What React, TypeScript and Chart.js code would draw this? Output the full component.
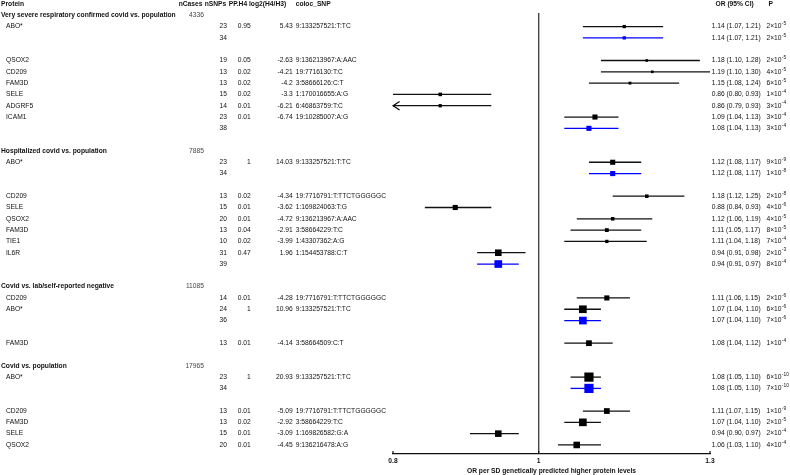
import { useEffect, useRef } from "react";
import { Chart, registerables } from "chart.js";

Chart.register(...registerables);

// ---------------- data ----------------
const columnHeaders = ["Protein", "nCases", "nSNPs", "PP.H4", "log2(H4/H3)", "coloc_SNP", "OR (95% CI)", "P"];

const sectionTitles = [
  "Very severe respiratory confirmed covid vs. population",
  "Hospitalized covid vs. population",
  "Covid vs. lab/self-reported negative",
  "Covid vs. population",
];
const sectionCases = [4336, 7885, 11085, 17965];

const rowSection = [0, 0, 0, 0, 0, 0, 0, 0, 0, 1, 1, 1, 1, 1, 1, 1, 1, 1, 2, 2, 2, 2, 3, 3, 3, 3, 3, 3];
const proteins = [
  "ABO*", "", "QSOX2", "CD209", "FAM3D", "SELE", "ADGRF5", "ICAM1", "",
  "ABO*", "", "CD209", "SELE", "QSOX2", "FAM3D", "TIE1", "IL6R", "",
  "CD209", "ABO*", "", "FAM3D",
  "ABO*", "", "CD209", "FAM3D", "SELE", "QSOX2",
];
const nSNPs = [23, 34, 19, 13, 13, 15, 14, 23, 38, 23, 34, 13, 15, 20, 13, 10, 31, 39, 14, 24, 36, 13, 23, 34, 13, 13, 15, 20];
const ppH4 = [0.95, null, 0.05, 0.02, 0.02, 0.02, 0.01, 0.01, null, 1, null, 0.02, 0.01, 0.01, 0.04, 0.02, 0.47, null, 0.01, 1, null, 0.01, 1, null, 0.01, 0.02, 0.01, 0.01];
const log2H4H3 = [5.43, null, -2.63, -4.21, -4.2, -3.3, -6.21, -6.74, null, 14.03, null, -4.34, -3.62, -4.72, -2.91, -3.99, 1.96, null, -4.28, 10.96, null, -4.14, 20.93, null, -5.09, -2.92, -3.09, -4.45];
const colocSNP = [
  "9:133257521:T:TC", "", "9:136213967:A:AAC", "19:7716130:T:C", "3:58666126:C:T", "1:170016655:A:G", "6:46863759:T:C", "19:10285007:A:G", "",
  "9:133257521:T:TC", "", "19:7716791:T:TTCTGGGGGC", "1:169824063:T:G", "9:136213967:A:AAC", "3:58664229:T:C", "1:43307362:A:G", "1:154453788:C:T", "",
  "19:7716791:T:TTCTGGGGGC", "9:133257521:T:TC", "", "3:58664509:C:T",
  "9:133257521:T:TC", "", "19:7716791:T:TTCTGGGGGC", "3:58664229:T:C", "1:169826582:G:A", "9:136216478:A:G",
];
const oddsRatio = [1.14, 1.14, 1.18, 1.19, 1.15, 0.86, 0.86, 1.09, 1.08, 1.12, 1.12, 1.18, 0.88, 1.12, 1.11, 1.11, 0.94, 0.94, 1.11, 1.07, 1.07, 1.08, 1.08, 1.08, 1.11, 1.07, 0.94, 1.06];
const ciLower = [1.07, 1.07, 1.10, 1.10, 1.08, 0.80, 0.79, 1.04, 1.04, 1.08, 1.08, 1.12, 0.84, 1.06, 1.05, 1.04, 0.91, 0.91, 1.06, 1.04, 1.04, 1.04, 1.05, 1.05, 1.07, 1.04, 0.90, 1.03];
const ciUpper = [1.21, 1.21, 1.28, 1.30, 1.24, 0.93, 0.93, 1.13, 1.13, 1.17, 1.17, 1.25, 0.93, 1.19, 1.17, 1.18, 0.98, 0.97, 1.15, 1.10, 1.10, 1.12, 1.10, 1.10, 1.15, 1.10, 0.97, 1.10];
const pMantissa = [2, 2, 2, 4, 6, 1, 3, 3, 3, 9, 1, 2, 4, 4, 8, 7, 2, 8, 2, 6, 7, 1, 6, 7, 1, 2, 2, 4];
const pExponent = [-5, -5, -5, -5, -5, -4, -4, -4, -4, -9, -8, -8, -6, -5, -5, -4, -3, -4, -6, -6, -6, -4, -10, -10, -9, -5, -4, -4];

const xTicks = [0.8, 1, 1.3];
const xTickLabels = ["0.8", "1", "1.3"];
const xTitle = "OR per SD genetically predicted higher protein levels";

// ---------------- layout (row positions) ----------------
const sectionRow: number[] = [];
const rowPos: number[] = [];
(() => {
  let r = 1;
  for (let s = 0; s < sectionTitles.length; s++) {
    sectionRow[s] = r++;
    const idx = rowSection.map((v, i) => (v === s ? i : -1)).filter((i) => i >= 0);
    let lastBlank = false;
    for (const i of idx) {
      rowPos[i] = r++;
      lastBlank = false;
      if (proteins[i] === "") {
        r++;
        lastBlank = true;
      }
    }
    if (!lastBlank) r++;
  }
})();

const BLACK = "#000000";
const BLUE = "#0000ff";
const FS = 6.7;
const FONT_FAMILY = '"Liberation Sans", Arial, Helvetica, sans-serif';

const isMulti = (i: number) => proteins[i] === "";
const boxSide = (i: number) => Math.max(2.6, 0.46 / (ciUpper[i] - ciLower[i]));

const textPlugin = {
  id: "forestText",
  afterDraw(chart: any) {
    const ctx: CanvasRenderingContext2D = chart.ctx;
    const ys = chart.scales.y;
    const xs = chart.scales.x;
    const area = chart.chartArea;
    const bold = `bold ${FS}px ${FONT_FAMILY}`;
    const reg = `${FS}px ${FONT_FAMILY}`;
    const sup = `${FS * 0.72}px ${FONT_FAMILY}`;
    ctx.save();
    ctx.textBaseline = "middle";
    const put = (t: string, x: number, y: number, align: CanvasTextAlign, font: string, color = "#111") => {
      ctx.font = font;
      ctx.fillStyle = color;
      ctx.textAlign = align;
      ctx.fillText(t, x, y);
    };
    // column headers
    const hy = ys.getPixelForValue(0);
    const headX = [1, 178.7, 204.7, 228.7, 249, 295.7, 715.5, 768.5];
    columnHeaders.forEach((h, k) => put(h, headX[k], hy, "left", bold));
    // section headers
    sectionTitles.forEach((t, s) => {
      const y = ys.getPixelForValue(sectionRow[s]);
      put(t, 1, y, "left", bold);
      put(String(sectionCases[s]), 204, y, "right", reg, "#444");
    });
    // rows
    for (let i = 0; i < proteins.length; i++) {
      const y = ys.getPixelForValue(rowPos[i]);
      if (proteins[i]) put(proteins[i], 6, y, "left", reg);
      put(String(nSNPs[i]), 227, y, "right", reg);
      if (ppH4[i] !== null) put(String(ppH4[i]), 250.7, y, "right", reg);
      if (log2H4H3[i] !== null) put(String(log2H4H3[i]), 292.7, y, "right", reg);
      if (colocSNP[i]) put(colocSNP[i], 295.7, y, "left", reg);
      put(`${oddsRatio[i].toFixed(2)} (${ciLower[i].toFixed(2)}, ${ciUpper[i].toFixed(2)})`, 711.7, y, "left", reg);
      const base = `${pMantissa[i]}\u00d710`;
      put(base, 766.5, y, "left", reg);
      ctx.font = reg;
      const w = ctx.measureText(base).width;
      put(String(pExponent[i]), 766.5 + w + 0.3, y - 2.6, "left", sup);
    }
    // arrows for truncated CIs
    ctx.strokeStyle = BLACK;
    ctx.lineWidth = 1.1;
    for (let i = 0; i < proteins.length; i++) {
      if (ciLower[i] < xs.min) {
        const y = ys.getPixelForValue(rowPos[i]);
        const x0 = area.left;
        ctx.beginPath();
        ctx.moveTo(x0 + 6.6, y - 4.3);
        ctx.lineTo(x0, y);
        ctx.lineTo(x0 + 6.6, y + 4.3);
        ctx.stroke();
      }
    }
    // inward tick marks on the x axis
    ctx.strokeStyle = "#111";
    ctx.lineWidth = 1.2;
    for (const t of xTicks) {
      const px = xs.getPixelForValue(t);
      ctx.beginPath();
      ctx.moveTo(px, area.bottom);
      ctx.lineTo(px, area.bottom - 3);
      ctx.stroke();
    }
    ctx.restore();
  },
};

export default function App() {
  const ref = useRef<HTMLCanvasElement | null>(null);

  useEffect(() => {
    if (!ref.current) return;
    document.body.style.margin = "0";

    const ciSets = proteins.map((_, i) => ({
      type: "scatter" as const,
      data: [
        { x: ciLower[i], y: rowPos[i] },
        { x: ciUpper[i], y: rowPos[i] },
      ],
      showLine: true,
      borderColor: isMulti(i) ? BLUE : "#111",
      borderWidth: 1.3,
      pointRadius: 0,
      order: 2,
    }));

    const chart = new Chart(ref.current, {
      type: "scatter",
      data: {
        datasets: [
          {
            data: proteins.map((_, i) => ({ x: oddsRatio[i], y: rowPos[i] })),
            pointStyle: "rect",
            pointRadius: proteins.map((_, i) => boxSide(i) / Math.SQRT2),
            backgroundColor: proteins.map((_, i) => (isMulti(i) ? BLUE : BLACK)),
            borderWidth: 0,
            order: 0,
          } as any,
          ...ciSets,
          {
            data: [
              { x: 1, y: 0.8 },
              { x: 1, y: 39.8 },
            ],
            showLine: true,
            borderColor: "#444",
            borderWidth: 1.4,
            pointRadius: 0,
            order: 3,
          },
        ],
      },
      options: {
        responsive: false,
        animation: false,
        devicePixelRatio: 1,
        layout: { padding: { left: 393, right: 80, top: 13, bottom: 0 } },
        plugins: { legend: { display: false }, tooltip: { enabled: false }, title: { display: false } },
        scales: {
          x: {
            type: "logarithmic",
            position: "bottom",
            min: 0.8,
            max: 1.3,
            afterBuildTicks: (scale: any) => {
              scale.ticks = xTicks.map((v) => ({ value: v }));
            },
            afterFit: (scale: any) => {
              scale.height = 21;
            },
            grid: { display: false, drawTicks: false },
            border: { display: true, color: "#111", width: 1.3 },
            ticks: {
              autoSkip: false,
              maxRotation: 0,
              padding: 3,
              color: "#111",
              font: { size: FS, weight: "bold", family: FONT_FAMILY },
              callback: (_v: any, idx: number) => xTickLabels[idx],
            },
            title: {
              display: true,
              text: xTitle,
              color: "#111",
              font: { size: FS, weight: "bold", family: FONT_FAMILY },
              padding: { top: 0, bottom: 0 },
            },
          },
          y: {
            type: "linear",
            display: false,
            reverse: true,
            min: 0.8,
            max: 39.8,
          },
        },
      },
      plugins: [textPlugin],
    });
    return () => chart.destroy();
  }, []);

  return (
    <div style={{ position: "fixed", left: 0, top: 0, width: 790, height: 475, background: "#fff" }}>
      <canvas ref={ref} width={790} height={475} />
    </div>
  );
}
